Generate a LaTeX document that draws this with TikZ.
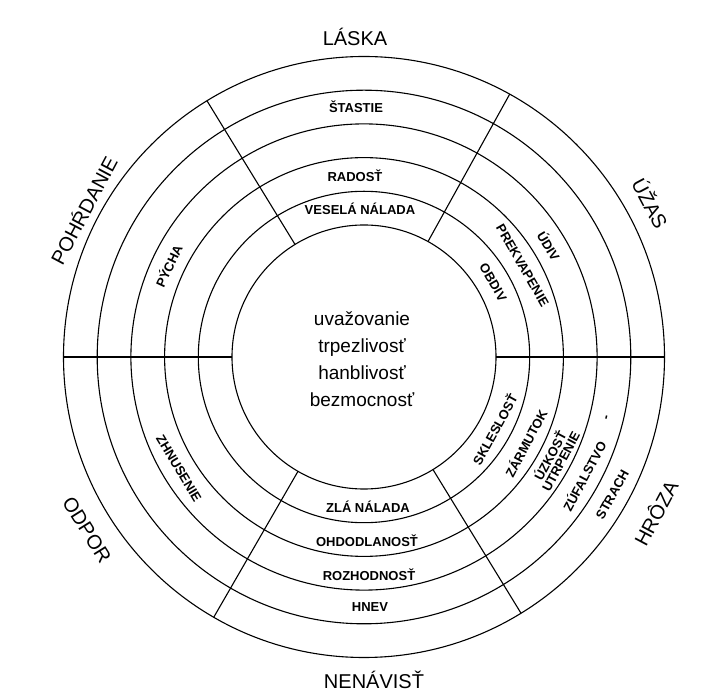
\documentclass[tikz,border=0pt]{standalone}
\usepackage{fontspec}
\setmainfont{Liberation Sans}
\usetikzlibrary{positioning}

\begin{document}
\begin{tikzpicture}[
  every node/.style={inner sep=0pt},
  pole/.style={font=\fontsize{20}{24}\selectfont},
  ring/.style={font=\bfseries\fontsize{13}{12}\selectfont, align=center},
  core/.style={font=\fontsize{19}{27}\selectfont, align=center}]
  \path[fill=white, use as bounding box] (-364pt,-343pt) rectangle (342pt,357pt);
  \coordinate (O) at (0,0);
  \foreach \r in {132,165.7,199.4,233.1,266.8,300.5} \draw[line width=1.1pt] (O) circle (\r pt);
  \foreach \a in {0,61,121.5,180,240,301.5} \draw[line width=1.1pt] (\a:132pt) -- (\a:300.5pt);
  \node[core] (core) at (-2pt,-2pt) {uvažovanie\\trpezlivosť\\hanblivosť\\bezmocnosť};
  \node[pole] (laska) at (-9pt,320pt) {LÁSKA};
  \node[pole] (nenavist) at (10pt,-323pt) {NENÁVISŤ};
  \node[pole, rotate=62] (pohrdanie) at (-281pt,147pt) {POHŔDANIE};
  \node[pole, rotate=-62] (uzas) at (287pt,154pt) {ÚŽAS};
  \node[pole, rotate=62] (hroza) at (291pt,-156pt) {HRÔZA};
  \node[pole, rotate=-58] (odpor) at (-277pt,-173pt) {ODPOR};
  \node[ring] (stastie) at (-8pt,250pt) {ŠTASTIE};
  \node[ring] (radost) at (-9pt,181pt) {RADOSŤ};
  \node[ring] (nalada) at (-4pt,148pt) {VESELÁ NÁLADA};
  \node[ring] (zla) at (4pt,-150pt) {ZLÁ NÁLADA};
  \node[ring] (odhodlanost) at (3pt,-184pt) {OHDODLANOSŤ};
  \node[ring] (rozhodnost) at (5pt,-218pt) {ROZHODNOSŤ};
  \node[ring] (hnev) at (6pt,-250pt) {HNEV};
  \node[ring, rotate=-60] (obdiv) at (30:149pt) {OBDIV};
  \node[ring, rotate=-60] (prekvapenie) at (30:183pt) {PREKVAPENIE};
  \node[ring, rotate=-59] (udiv) at (31:216pt) {ÚDIV};
  \node[ring, rotate=61] (skleslost) at (-29:149pt) {SKLESLOSŤ};
  \node[ring, rotate=62] (zarmutok) at (-28:183pt) {ZÁRMUTOK};
  \node[ring, rotate=62] (uzkost) at (-28:216pt) {ÚZKOSŤ\\UTRPENIE};
  \node[ring, rotate=62] (zufalstvo) at (-28.4:250pt) {ZÚFALSTVO};
  \node[ring, rotate=61] (strach) at (-29:284pt) {STRACH};
  \node[ring, rotate=76] (tick) at (-14:251pt) {-};
  \node[ring, rotate=65] (pycha) at (155:216pt) {PÝCHA};
  \node[ring, rotate=-59] (zhnusenie) at (211:216pt) {ZHNUSENIE};
\end{tikzpicture}
\end{document}
